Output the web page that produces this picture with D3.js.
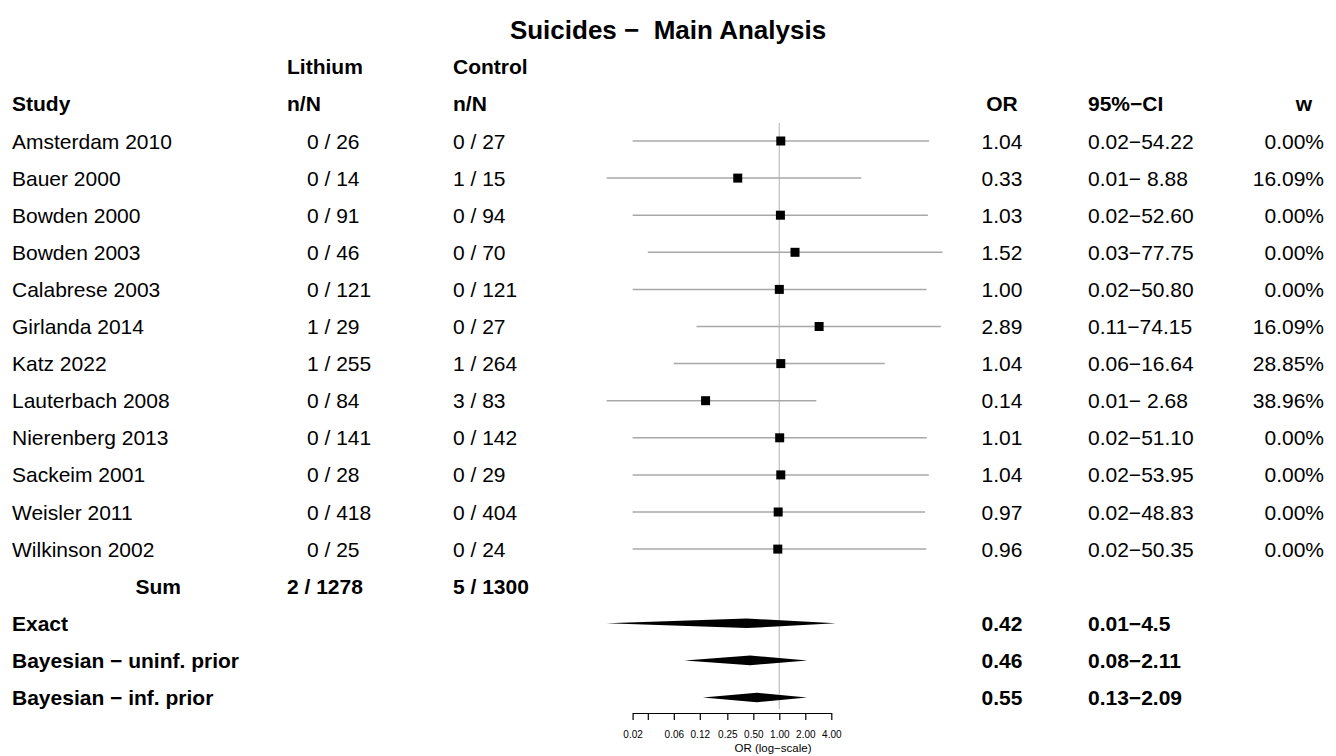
<!DOCTYPE html>
<html><head><meta charset="utf-8">
<script src="https://cdn.jsdelivr.net/npm/d3@7/dist/d3.min.js"></script>
<style>
body{margin:0;background:#fff}
text{font-family:"Liberation Sans",Arial,Helvetica,sans-serif;fill:#000}
</style>
</head><body>
<svg id="chart" width="1336" height="756"></svg>
<script>
// ---- data ----
const studies = ["Amsterdam 2010","Bauer 2000","Bowden 2000","Bowden 2003","Calabrese 2003","Girlanda 2014","Katz 2022","Lauterbach 2008","Nierenberg 2013","Sackeim 2001","Weisler 2011","Wilkinson 2002"];
const eventsLi = [0,0,0,0,0,1,1,0,0,0,0,0];
const totalLi  = [26,14,91,46,121,29,255,84,141,28,418,25];
const eventsCo = [0,1,0,0,0,0,1,3,0,0,0,0];
const totalCo  = [27,15,94,70,121,27,264,83,142,29,404,24];
const orVals   = [1.04,0.33,1.03,1.52,1.00,2.89,1.04,0.14,1.01,1.04,0.97,0.96];
const ciLower  = [0.02,0.01,0.02,0.03,0.02,0.11,0.06,0.01,0.02,0.02,0.02,0.02];
const ciUpper  = [54.22,8.88,52.60,77.75,50.80,74.15,16.64,2.68,51.10,53.95,48.83,50.35];
const weights  = [0.00,16.09,0.00,0.00,0.00,16.09,28.85,38.96,0.00,0.00,0.00,0.00];
const pooledLabels = ["Exact","Bayesian \u2212 uninf. prior","Bayesian \u2212 inf. prior"];
const pooledOR     = [0.42,0.46,0.55];
const pooledLower  = [0.01,0.08,0.13];
const pooledUpper  = [4.5,2.11,2.09];
const tickValues = [0.02,0.03,0.06,0.12,0.25,0.5,1,2,4];
const tickLabels = ["0.02","","0.06","0.12","0.25","0.50","1.00","2.00","4.00"];

// ---- layout ----
const svg = d3.select("#chart");
const FS = 21;
const x = d3.scaleLog().domain([0.02,4]).range([632.6,831.3]);
const y = d3.scaleLinear().domain([0,1]).range([141,178.1]);
const MINUS = "\u2212";
const colStudy = 12, colLi = 287, colLiVal = 307, colCo = 453, colOR = 1002, colCI = 1088, colW = 1324;

function txt(xp, yp, s, opts={}) {
  return svg.append("text").attr("x", xp).attr("y", yp).attr("dy","0.36em")
    .attr("font-size", opts.fs || FS)
    .attr("font-weight", opts.bold ? "bold" : "normal")
    .attr("text-anchor", opts.anchor || "start")
    .style("white-space","pre")
    .text(s);
}

// title
txt(668, y(-3), "Suicides " + MINUS + "  Main Analysis", {bold:true, fs:26, anchor:"middle"});
// headers
txt(colLi, y(-2), "Lithium", {bold:true});
txt(colCo, y(-2), "Control", {bold:true});
txt(colStudy, y(-1), "Study", {bold:true});
txt(colLi, y(-1), "n/N", {bold:true});
txt(colCo, y(-1), "n/N", {bold:true});
txt(colOR, y(-1), "OR", {bold:true, anchor:"middle"});
txt(colCI, y(-1), "95%" + MINUS + "CI", {bold:true});
txt(1304, y(-1), "w", {bold:true, anchor:"middle"});

// reference line
svg.append("line").attr("x1", x(1)).attr("x2", x(1))
  .attr("y1", y(0) - 18).attr("y2", 709)
  .attr("stroke", "#c4c4c4").attr("stroke-width", 1.3);

// study rows
const fmtCI = (lo, hi) => lo.toFixed(2) + MINUS + (hi < 10 ? " " : "") + hi.toFixed(2);
studies.forEach((s, i) => {
  const yy = y(i);
  txt(colStudy, yy, s);
  txt(colLiVal, yy, eventsLi[i] + " / " + totalLi[i]);
  txt(colCo, yy, eventsCo[i] + " / " + totalCo[i]);
  txt(colOR, yy, orVals[i].toFixed(2), {anchor:"middle"});
  txt(colCI, yy, fmtCI(ciLower[i], ciUpper[i]));
  txt(colW, yy, weights[i].toFixed(2) + "%", {anchor:"end"});
  svg.append("line").attr("x1", x(ciLower[i])).attr("x2", x(ciUpper[i]))
    .attr("y1", yy).attr("y2", yy).attr("stroke", "#a8a8a8").attr("stroke-width", 1.5);
  svg.append("rect").attr("x", x(orVals[i]) - 4.5).attr("y", yy - 4.5)
    .attr("width", 9).attr("height", 9).attr("fill", "#000");
});

// sum row
const ySum = y(studies.length);
txt(181, ySum, "Sum", {bold:true, anchor:"end"});
txt(colLi, ySum, d3.sum(eventsLi) + " / " + d3.sum(totalLi), {bold:true});
txt(colCo, ySum, d3.sum(eventsCo) + " / " + d3.sum(totalCo), {bold:true});

// pooled rows
pooledLabels.forEach((lab, j) => {
  const yy = y(studies.length + 1 + j);
  txt(colStudy, yy, lab, {bold:true});
  txt(colOR, yy, pooledOR[j].toFixed(2), {bold:true, anchor:"middle"});
  txt(colCI, yy, pooledLower[j].toFixed(2) + MINUS + String(pooledUpper[j]), {bold:true});
  const h = 4.8;
  const pts = [[x(pooledLower[j]), yy],[x(pooledOR[j]), yy - h],[x(pooledUpper[j]), yy],[x(pooledOR[j]), yy + h]];
  svg.append("path").attr("d", "M" + pts.map(p => p.join(",")).join("L") + "Z").attr("fill", "#000");
});

// axis
const axis = d3.axisBottom(x).tickValues(tickValues)
  .tickFormat((d, i) => tickLabels[i]).tickSize(7).tickSizeOuter(0).tickPadding(11);
const gA = svg.append("g").attr("transform", "translate(0,713)").call(axis);
gA.attr("font-family", null);
gA.selectAll("text").attr("font-size", 10).style("font-family", '"Liberation Sans",Arial,sans-serif');
gA.selectAll("line,path").attr("stroke", "#000").attr("stroke-width", 1.2);
svg.append("text").attr("x", 773).attr("y", 752).attr("text-anchor", "middle")
  .attr("font-size", 11.5).text("OR (log" + MINUS + "scale)");
</script>
</body></html>
